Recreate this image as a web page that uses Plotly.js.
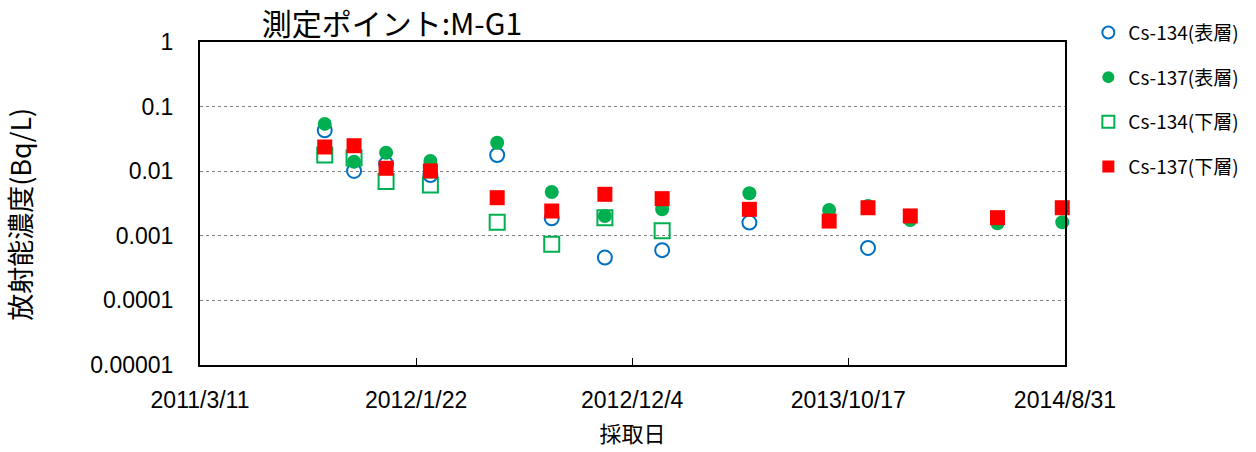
<!DOCTYPE html>
<html><head><meta charset="utf-8">
<script src="https://cdn.plot.ly/plotly-3.0.1.min.js"></script>
<style>body{margin:0;background:#fff}#c{width:1256px;height:452px}</style>
</head><body><div id="c"></div>
<script>
var dates = ['2011-09-10','2011-10-23','2011-12-09','2012-02-12','2012-05-20','2012-08-08','2012-10-25','2013-01-17','2013-05-25','2013-09-19','2013-11-15','2014-01-16','2014-05-24','2014-08-27'];
var cs134Surface = [0.043,0.0101,0.013,0.0087,0.0178,0.00187,0.00046,0.0006,0.0016,null,0.00065,null,null,null];
var cs137Surface = [0.054,0.014,0.0193,0.0144,0.0276,0.00476,0.00203,0.00257,0.00455,0.00251,0.0029,0.00176,0.00156,0.00162];
var cs134Lower = [0.0178,0.016,0.0069,0.0061,0.00162,0.00074,0.00191,0.0012,null,null,null,null,null,null];
var cs137Lower = [0.0237,0.0248,0.0111,0.0101,0.00389,0.00242,0.00439,0.00376,0.00257,0.00169,0.00272,0.00203,0.00191,0.00272];
var seriesNames = ['Cs-134(表層)','Cs-137(表層)','Cs-134(下層)','Cs-137(下層)'];
var xTickVals = ['2011-03-11','2012-01-22','2012-12-04','2013-10-17','2014-08-31'];
var xTickText = ['2011/3/11','2012/1/22','2012/12/4','2013/10/17','2014/8/31'];
var yTickVals = [0.00001,0.0001,0.001,0.01,0.1,1];
var yTickText = ['0.00001','0.0001','0.001','0.01','0.1','1'];

var FONT = '"Liberation Sans", Arial, sans-serif';
var JP = '"Noto Sans CJK JP", sans-serif';

function tr(y, name, sym, col, i){
  var open = sym.indexOf('open') >= 0;
  return {x: dates, y: y, name: name, type: 'scatter', mode: 'markers', cliponaxis: false,
    legendgroup: 'g'+i,
    marker: {symbol: sym, size: sym.indexOf('square')>=0 ? 15 : 14, color: col,
      line: {color: col, width: open ? 2 : 0}}};
}
var data = [
  tr(cs134Surface, seriesNames[0], 'circle-open', '#0070C0', 0),
  tr(cs137Surface, seriesNames[1], 'circle', '#00B050', 1),
  tr(cs134Lower, seriesNames[2], 'square-open', '#00B050', 2),
  tr(cs137Lower, seriesNames[3], 'square', '#FF0000', 3)
];
var layout = {
  width: 1256, height: 452,
  margin: {l: 200, r: 191, t: 42, b: 87, autoexpand: false},
  paper_bgcolor: '#fff', plot_bgcolor: '#fff',
  font: {family: FONT, color: '#000', size: 20},
  title: {text: '測定ポイント:M-G1', font: {family: JP, size: 30, color: '#000'},
    x: 0.312, xref: 'container', xanchor: 'center', y: 0.945, yref: 'container', yanchor: 'middle'},
  xaxis: {type: 'date', range: ['2011-03-11','2014-08-31'], tickvals: xTickVals, ticktext: xTickText,
    ticks: 'inside', ticklen: 7, tickcolor: '#000', tickwidth: 1,
    showgrid: false, zeroline: false, showline: true, linecolor: '#000', linewidth: 2, mirror: true,
    tickfont: {family: FONT, size: 23}, ticklabelstandoff: 13,
    title: {text: '採取日', font: {family: JP, size: 22}, standoff: 15}},
  yaxis: {type: 'log', range: [-5, 0], tickvals: yTickVals, ticktext: yTickText,
    ticks: '', showgrid: true, gridcolor: '#808080', griddash: 'dot', gridwidth: 1,
    zeroline: false, showline: true, linecolor: '#000', linewidth: 2, mirror: true,
    tickfont: {family: FONT, size: 23}, ticklabelstandoff: 20},
  annotations: [{text: '放射能濃度(Bq/L)', textangle: -90, showarrow: false,
    xref: 'paper', yref: 'paper', x: -180/865, y: 0.465, xanchor: 'center', yanchor: 'middle',
    font: {family: JP, size: 27, color: '#000'}}],
  showlegend: true,
  legend: {x: 1.027, xanchor: 'left', y: 1.088, yanchor: 'top', tracegroupgap: 17,
    font: {family: JP, size: 19}, itemsizing: 'constant', bgcolor: 'rgba(0,0,0,0)'}
};
Plotly.newPlot('c', data, layout, {displayModeBar: false, staticPlot: true});
</script></body></html>
